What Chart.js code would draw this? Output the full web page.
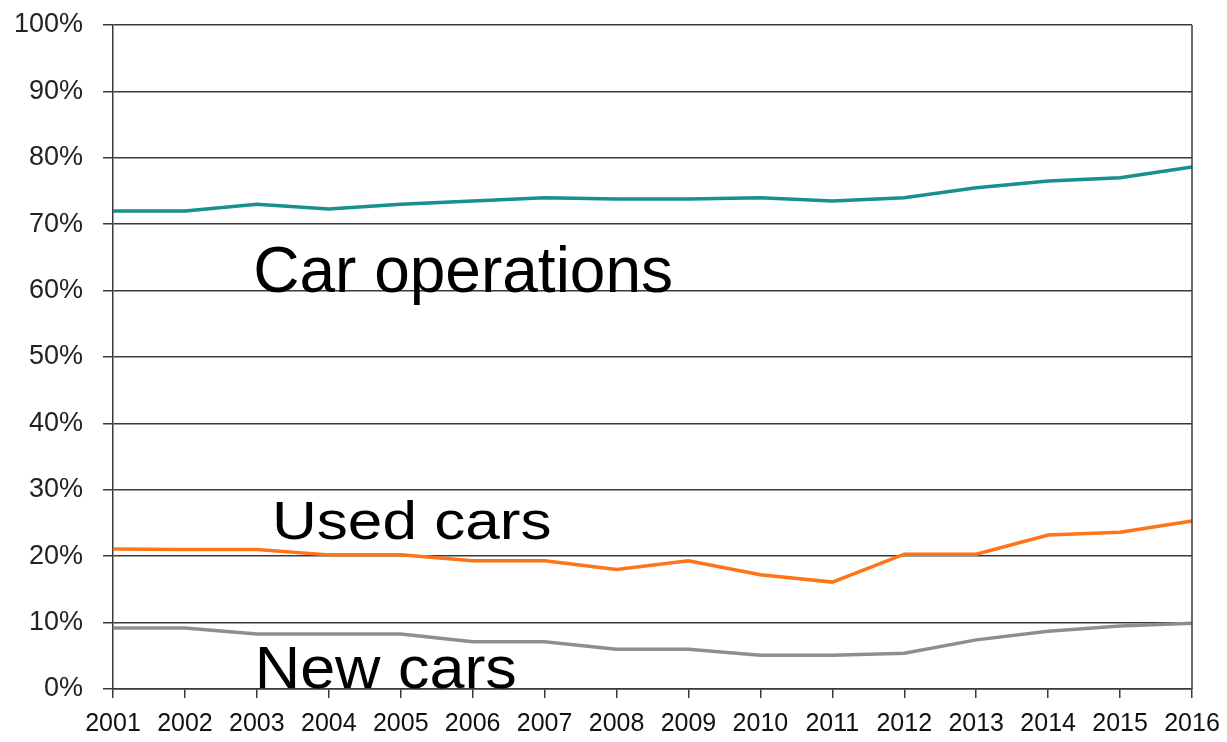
<!DOCTYPE html>
<html>
<head>
<meta charset="utf-8">
<script src="https://cdn.jsdelivr.net/npm/chart.js@4"></script>
<style>
  html, body { margin: 0; padding: 0; background: #fff; }
  #wrap { width: 1227px; height: 742px; }
</style>
</head>
<body>
<div id="wrap"><canvas id="chart"></canvas></div>
<script>
var years = ["2001", "2002", "2003", "2004", "2005", "2006", "2007", "2008",
             "2009", "2010", "2011", "2012", "2013", "2014", "2015", "2016"];
var carOperations = [72, 72, 73, 72.3, 73, 73.5, 74, 73.8, 73.8, 74, 73.5, 74, 75.5, 76.5, 77, 78.6];
var usedCars = [21.1, 21, 21, 20.2, 20.2, 19.3, 19.3, 18, 19.3, 17.2, 16.1, 20.3, 20.3, 23.2, 23.6, 25.3];
var newCars = [9.2, 9.2, 8.3, 8.3, 8.3, 7.1, 7.1, 6, 6, 5.1, 5.1, 5.4, 7.4, 8.7, 9.5, 9.9];
var captions = ["Car operations", "Used cars", "New cars"];

// big captions and the right edge of the frame
var extras = {
    id: 'extras',
    afterDatasetsDraw: function (chart) {
        var ctx = chart.ctx;
        var area = chart.chartArea;
        var xs = chart.scales.x;
        var ys = chart.scales.y;
        // where each caption sits (x index, baseline value), font size and stretch
        var place = [
            {x: 1.95, y: 59.8, size: 64, sx: 1},
            {x: 2.21, y: 22.6, size: 54, sx: 1.15},
            {x: 1.97, y: 0.1, size: 59, sx: 1.066}
        ];
        ctx.save();
        ctx.strokeStyle = '#3a3a3a';
        ctx.lineWidth = 1.5;
        ctx.beginPath();
        ctx.moveTo(area.right, area.top);
        ctx.lineTo(area.right, area.bottom);
        ctx.stroke();
        ctx.restore();

        captions.forEach(function (text, i) {
            var p = place[i];
            ctx.save();
            ctx.translate(xs.getPixelForValue(p.x), ys.getPixelForValue(p.y));
            ctx.scale(p.sx, 1);
            ctx.fillStyle = '#000';
            ctx.font = p.size + 'px "Liberation Sans", Arial, sans-serif';
            ctx.textAlign = 'left';
            ctx.textBaseline = 'alphabetic';
            ctx.fillText(text, 0, 0);
            ctx.restore();
        });
    }
};

function line(data, color) {
    return {
        data: data,
        borderColor: color,
        borderWidth: 3.5,
        pointRadius: 0,
        tension: 0,
        fill: false
    };
}

new Chart(document.getElementById('chart'), {
    type: 'line',
    data: {
        labels: years,
        datasets: [
            line(carOperations, '#17908f'),
            line(usedCars, '#ff7417'),
            line(newCars, '#8e8e8e')
        ]
    },
    options: {
        responsive: true,
        maintainAspectRatio: false,
        animation: false,
        layout: {padding: {top: 25, right: 35, left: 0, bottom: 0}},
        plugins: {legend: {display: false}, tooltip: {enabled: false}},
        scales: {
            x: {
                offset: false,
                grid: {drawOnChartArea: false, drawTicks: true, tickLength: 9, color: '#3a3a3a', lineWidth: 1.5},
                border: {color: '#3a3a3a', width: 1.5},
                ticks: {
                    color: '#111',
                    maxRotation: 0,
                    autoSkip: false,
                    padding: 11,
                    font: {family: '"Liberation Sans", Arial, sans-serif', size: 25}
                },
                afterFit: function (s) { s.height = 53; s.paddingRight = 0; s.paddingLeft = 0; }
            },
            y: {
                min: 0,
                max: 100,
                grid: {color: '#3a3a3a', lineWidth: 1.5, tickLength: 10},
                border: {color: '#3a3a3a', width: 1.5},
                ticks: {
                    stepSize: 10,
                    color: '#222',
                    padding: 20,
                    font: {family: '"Liberation Sans", Arial, sans-serif', size: 27},
                    callback: function (v) { return v + '%'; }
                },
                afterFit: function (s) { s.width = 113; s.paddingTop = 0; s.paddingBottom = 0; }
            }
        }
    },
    plugins: [extras]
});
</script>
</body>
</html>
